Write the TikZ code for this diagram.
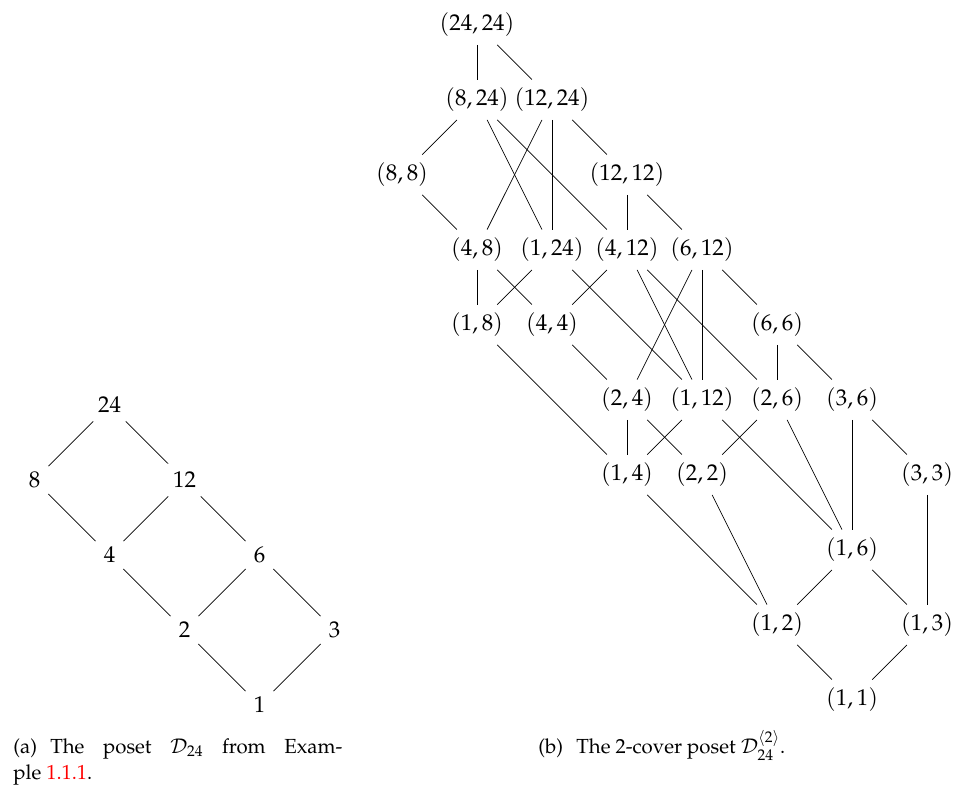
\documentclass[tikz,border=0pt]{standalone}
\usepackage[T1]{fontenc}
\usepackage{mathpazo}
\usepackage{xcolor}

\begin{document}
\begin{tikzpicture}[x=1.5cm, y=1.5cm,
    elt/.style={inner sep=4.5pt, font=\fontsize{13}{15.6}\selectfont},
    capt/.style={inner sep=0pt, font=\fontsize{11.6}{15}\selectfont}]
    \useasboundingbox (0,0) rectangle (12.773,10.52);

    % (a) the divisor poset of 24
    \node[elt] (a24) at (1.46,5.12) {$24$};
    \node[elt] (a8)  at (0.46,4.12) {$8$};
    \node[elt] (a12) at (2.46,4.12) {$12$};
    \node[elt] (a4)  at (1.46,3.12) {$4$};
    \node[elt] (a6)  at (3.46,3.12) {$6$};
    \node[elt] (a2)  at (2.46,2.12) {$2$};
    \node[elt] (a3)  at (4.46,2.12) {$3$};
    \node[elt] (a1)  at (3.46,1.12) {$1$};

    \draw (a8)--(a24)--(a12)--(a6)--(a3)--(a1)--(a2)--(a4)--(a8);
    \draw (a4)--(a12); \draw (a2)--(a6);

    % (b) the 2-cover poset
    \node[elt] (b24-24) at (6.36,10.19) {$(24,24)$};
    \node[elt] (b8-24)  at (6.36,9.19)  {$(8,24)$};
    \node[elt] (b12-24) at (7.36,9.19)  {$(12,24)$};
    \node[elt] (b8-8)   at (5.36,8.19)  {$(8,8)$};
    \node[elt] (b12-12) at (8.36,8.19)  {$(12,12)$};
    \node[elt] (b4-8)   at (6.36,7.19)  {$(4,8)$};
    \node[elt] (b1-24)  at (7.36,7.19)  {$(1,24)$};
    \node[elt] (b4-12)  at (8.36,7.19)  {$(4,12)$};
    \node[elt] (b6-12)  at (9.36,7.19)  {$(6,12)$};
    \node[elt] (b1-8)   at (6.36,6.19)  {$(1,8)$};
    \node[elt] (b4-4)   at (7.36,6.19)  {$(4,4)$};
    \node[elt] (b6-6)   at (10.36,6.19) {$(6,6)$};
    \node[elt] (b2-4)   at (8.36,5.19)  {$(2,4)$};
    \node[elt] (b1-12)  at (9.36,5.19)  {$(1,12)$};
    \node[elt] (b2-6)   at (10.36,5.19) {$(2,6)$};
    \node[elt] (b3-6)   at (11.36,5.19) {$(3,6)$};
    \node[elt] (b1-4)   at (8.36,4.19)  {$(1,4)$};
    \node[elt] (b2-2)   at (9.36,4.19)  {$(2,2)$};
    \node[elt] (b3-3)   at (12.36,4.19) {$(3,3)$};
    \node[elt] (b1-6)   at (11.36,3.19) {$(1,6)$};
    \node[elt] (b1-2)   at (10.36,2.19) {$(1,2)$};
    \node[elt] (b1-3)   at (12.36,2.19) {$(1,3)$};
    \node[elt] (b1-1)   at (11.36,1.19) {$(1,1)$};

    \draw (b24-24)--(b8-24); \draw (b24-24)--(b12-24);
    \draw (b8-24)--(b8-8); \draw (b8-24)--(b1-24); \draw (b8-24)--(b4-12);
    \draw (b12-24)--(b4-8); \draw (b12-24)--(b1-24); \draw (b12-24)--(b12-12);
    \draw (b8-8)--(b4-8);
    \draw (b12-12)--(b4-12); \draw (b12-12)--(b6-12);
    \draw (b4-8)--(b1-8); \draw (b4-8)--(b4-4);
    \draw (b1-24)--(b1-8); \draw (b1-24)--(b1-12);
    \draw (b4-12)--(b4-4); \draw (b4-12)--(b1-12); \draw (b4-12)--(b2-6);
    \draw (b6-12)--(b2-4); \draw (b6-12)--(b1-12); \draw (b6-12)--(b6-6);
    \draw (b1-8)--(b1-4);
    \draw (b4-4)--(b2-4);
    \draw (b6-6)--(b2-6); \draw (b6-6)--(b3-6);
    \draw (b2-4)--(b1-4); \draw (b2-4)--(b2-2);
    \draw (b1-12)--(b1-4); \draw (b1-12)--(b1-6);
    \draw (b2-6)--(b2-2); \draw (b2-6)--(b1-6);
    \draw (b3-6)--(b1-6); \draw (b3-6)--(b3-3);
    \draw (b1-4)--(b1-2); \draw (b2-2)--(b1-2);
    \draw (b3-3)--(b1-3);
    \draw (b1-6)--(b1-2); \draw (b1-6)--(b1-3);
    \draw (b1-2)--(b1-1); \draw (b1-3)--(b1-1);

    % captions
    \node[capt, anchor=base west, text width=6.58cm, align=justify] (capa) at (0.173,0.48)
        {(a)\hspace{0.65em}The poset $\mathcal{D}_{24}$ from Exam-\linebreak ple \textcolor{red}{1.1.1}.};
    \node[capt, anchor=base west] (capb) at (7.173,0.48)
        {(b)\hspace{0.65em}The 2-cover poset $\mathcal{D}_{24}^{\langle 2\rangle}$.};
\end{tikzpicture}
\end{document}
